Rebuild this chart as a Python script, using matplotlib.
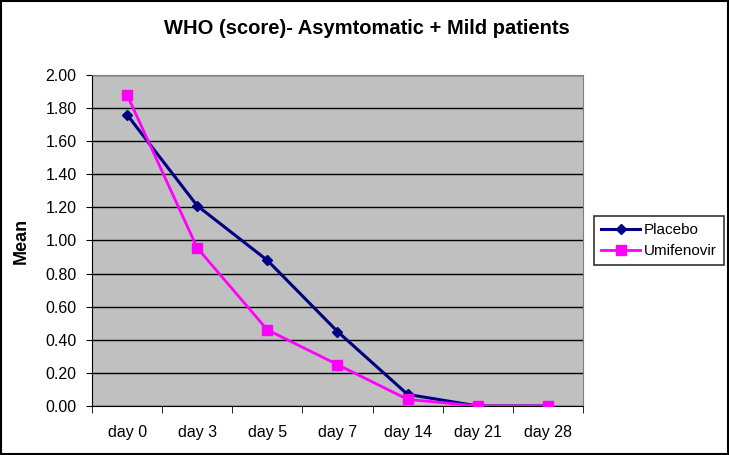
import matplotlib
matplotlib.use("Agg")
import matplotlib.pyplot as plt
import numpy as np

plt.rcParams['font.family'] = ['Liberation Sans', 'DejaVu Sans']

days = ['day 0', 'day 3', 'day 5', 'day 7', 'day 14', 'day 21', 'day 28']
placebo = [1.76, 1.21, 0.88, 0.45, 0.07, 0.00, 0.00]
umifenovir = [1.88, 0.955, 0.46, 0.25, 0.04, 0.00, 0.00]
yticks = [0.0, 0.2, 0.4, 0.6, 0.8, 1.0, 1.2, 1.4, 1.6, 1.8, 2.0]

fig = plt.figure(figsize=(7.29, 4.55), dpi=100)
ax = fig.add_axes([0.1262, 0.1077, 0.6735, 0.7275])
ax.set_facecolor('#C0C0C0')

x = np.arange(len(days))
ax.plot(x, placebo, color='#000080', lw=2.2, marker='D', ms=5, label='Placebo', zorder=3)
ax.plot(x, umifenovir, color='#FF00FF', lw=2, marker='s', ms=7, label='Umifenovir', zorder=3)

ax.set_xlim(-0.5, len(days) - 0.5)
ax.set_ylim(0, 2.0)
ax.set_yticks(yticks)
ax.set_yticklabels(['%.2f' % v for v in yticks], fontsize=11.5)
ax.set_xticks(x)
ax.set_xticklabels(days, fontsize=11.5)
ax.tick_params(axis='x', length=0, pad=14)
ax.set_xticks(np.arange(-0.5, len(days)), minor=True)
ax.tick_params(axis='x', which='minor', length=5, direction='out')
ax.tick_params(axis='y', length=4, direction='out', pad=7)
ax.yaxis.grid(True, color='black', lw=1)
ax.set_axisbelow(True)
for s in ['top', 'right']:
    ax.spines[s].set_color('#808080')
ax.spines['left'].set_color('black')
ax.spines['bottom'].set_color('black')

ax.set_ylabel('Mean', fontsize=13, fontweight='bold', labelpad=11)
fig.text(0.503, 0.938, 'WHO (score)- Asymtomatic + Mild patients', ha='center', va='center',
         fontsize=14.5, fontweight='bold')

leg = ax.legend(loc='center left', bbox_to_anchor=(1.022, 0.5), fontsize=11, frameon=True,
                fancybox=False, edgecolor='black', handlelength=2.6, handletextpad=0.25,
                borderpad=0.45, borderaxespad=0, labelspacing=0.45)
leg.get_frame().set_linewidth(1.2)

fig.patches.append(plt.Rectangle((0.002, 0.002), 0.996, 0.996, transform=fig.transFigure,
                                 fill=False, edgecolor='black', lw=1.5))

fig.savefig('out.png', dpi=100)
